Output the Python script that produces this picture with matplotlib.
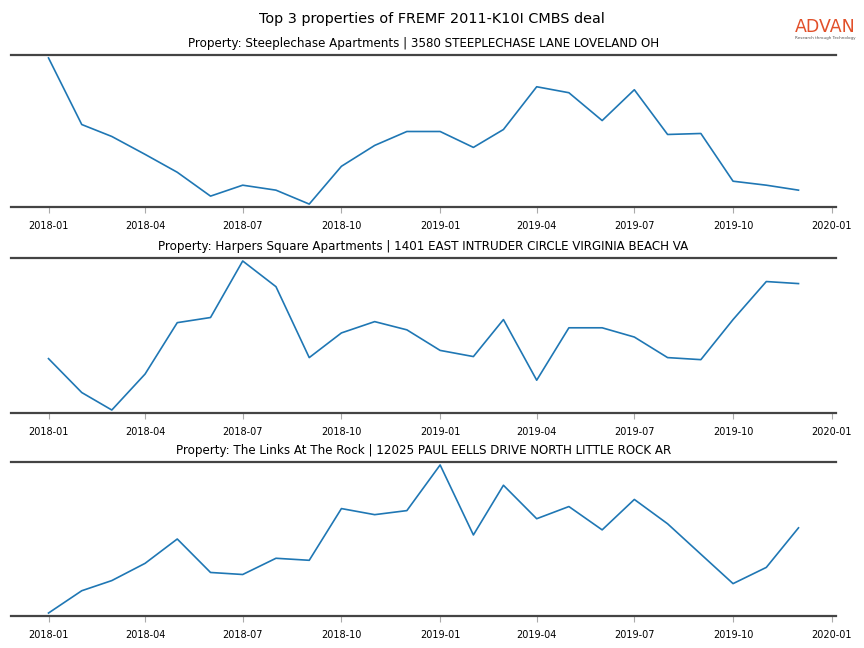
import matplotlib
matplotlib.use("Agg")
import matplotlib.pyplot as plt
import matplotlib.dates as mdates
import numpy as np
import pandas as pd

months = pd.date_range("2018-01-01", "2019-12-01", freq="MS")

titles = [
    "Property: Steeplechase Apartments | 3580 STEEPLECHASE LANE LOVELAND OH",
    "Property: Harpers Square Apartments | 1401 EAST INTRUDER CIRCLE VIRGINIA BEACH VA",
    "Property: The Links At The Rock | 12025 PAUL EELLS DRIVE NORTH LITTLE ROCK AR",
]

steeplechase = [157, 90, 78, 60, 42, 18, 29, 24, 10, 48, 69, 83,
                83, 67, 85, 128, 122, 94, 125, 80, 81, 33, 29, 24]
harpers = [57, 24, 7, 42, 92, 97, 152, 127, 58, 82, 93, 85,
           65, 59, 95, 36, 87, 87, 78, 58, 56, 95, 132, 130]
links = [3, 25, 35, 52, 76, 43, 41, 57, 55, 106, 100, 104,
         149, 80, 129, 96, 108, 85, 115, 91, 61, 32, 48, 87]

series = [steeplechase, harpers, links]

fig = plt.figure(figsize=(8.64, 6.48), dpi=100)
W, H = 864, 648
axes_px = [(55, 207), (258, 413), (462, 616)]
left_px, right_px = 11, 836

for (top, bot), title, vals in zip(axes_px, titles, series):
    ax = fig.add_axes([left_px / W, 1 - bot / H, (right_px - left_px) / W, (bot - top) / H])
    ax.plot(months, vals, color="#1f77b4", linewidth=1.2)
    ax.margins(y=0.02)
    ax.set_title(title, fontsize=8.6, pad=6)
    for s in ["left", "right"]:
        ax.spines[s].set_visible(False)
    for s in ["top", "bottom"]:
        ax.spines[s].set_color("#444444")
        ax.spines[s].set_linewidth(1.6)
    ax.set_yticks([])
    ax.xaxis.set_major_locator(mdates.MonthLocator(bymonth=[1, 4, 7, 10]))
    ax.xaxis.set_major_formatter(mdates.DateFormatter("%Y-%m"))
    ax.tick_params(axis="x", labelsize=7, color="#aaaaaa", length=4, width=0.8, pad=6)

fig.text(0.5, 1 - 19 / H, "Top 3 properties of FREMF 2011-K10I CMBS deal",
         ha="center", va="center", fontsize=10.4)
fig.text(825 / W, 1 - 27 / H, "ADVAN", ha="center", va="center", fontsize=12.5,
         color="#e2502a", fontweight="medium")
fig.text(825 / W, 1 - 38 / H, "Research through Technology", ha="center", va="center",
         fontsize=3, color="#555555")

fig.savefig("out.png", dpi=100)
